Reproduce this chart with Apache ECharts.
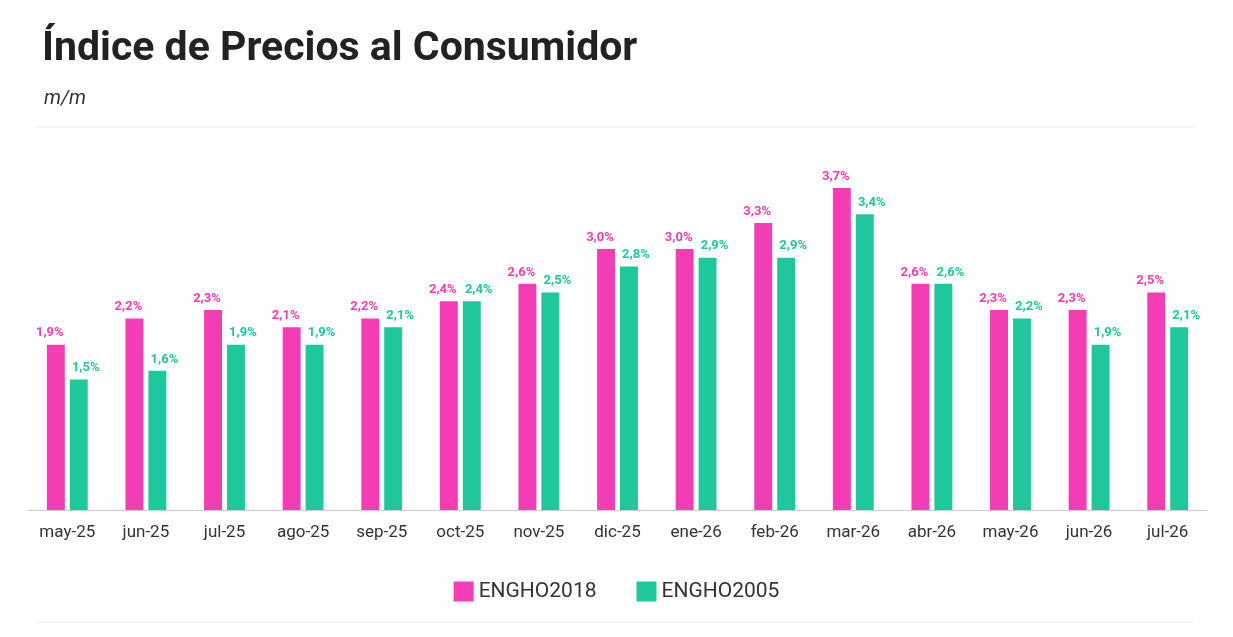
<!DOCTYPE html>
<html><head><meta charset="utf-8">
<script src="https://cdn.jsdelivr.net/npm/echarts@6/dist/echarts.min.js"></script>
<style>html,body{margin:0;padding:0;background:#fff}#c{width:1233px;height:637px}</style>
</head><body><div id="c"></div>
<script>
const categories=['may-25','jun-25','jul-25','ago-25','sep-25','oct-25','nov-25','dic-25','ene-26','feb-26','mar-26','abr-26','may-26','jun-26','jul-26'];
const engho2018=[1.9,2.2,2.3,2.1,2.2,2.4,2.6,3.0,3.0,3.3,3.7,2.6,2.3,2.3,2.5];
const engho2005=[1.5,1.6,1.9,1.9,2.1,2.4,2.5,2.8,2.9,2.9,3.4,2.6,2.2,1.9,2.1];
const pink='#f23db4', teal='#1fc79c';
const fmt=p=>p.value.toFixed(1).replace('.',',')+'%';
const chart=echarts.init(document.getElementById('c'));
chart.setOption({
  textStyle:{fontFamily:'Roboto'},
  title:[{text:'Índice de Precios al Consumidor',left:37,top:24,textStyle:{fontSize:41,fontWeight:'bold',color:'#222',fontFamily:'Roboto'}},
         {text:'m/m',left:39,top:84,textStyle:{fontSize:20,fontStyle:'italic',fontWeight:'normal',color:'#333'}}],
  graphic:[{type:'line',shape:{x1:38,y1:127,x2:1193,y2:127},style:{stroke:'#e6e6e6',lineWidth:1}},
           {type:'line',shape:{x1:38,y1:622,x2:1193,y2:622},style:{stroke:'#e6e6e6',lineWidth:1}}],
  legend:{bottom:30,left:'center',itemWidth:20,itemHeight:20,itemGap:40,icon:'rect',textStyle:{fontSize:21,color:'#333'}},
  grid:{left:28,right:26,top:162,bottom:127},
  xAxis:{type:'category',data:categories,axisTick:{show:false},axisLine:{lineStyle:{color:'#ccc'}},axisLabel:{fontSize:17,color:'#333',margin:14}},
  yAxis:{type:'value',min:0,max:4,show:false,splitLine:{show:false}},
  series:[
    {name:'ENGHO2018',type:'bar',data:engho2018,itemStyle:{color:pink},barGap:'28%',barCategoryGap:'48%',
     label:{show:true,position:'top',formatter:fmt,color:pink,fontSize:13,fontWeight:'bold',offset:[-6,0]}},
    {name:'ENGHO2005',type:'bar',data:engho2005,itemStyle:{color:teal},
     label:{show:true,position:'top',formatter:fmt,color:teal,fontSize:13,fontWeight:'bold',offset:[7,0]}}
  ]
});
</script></body></html>
